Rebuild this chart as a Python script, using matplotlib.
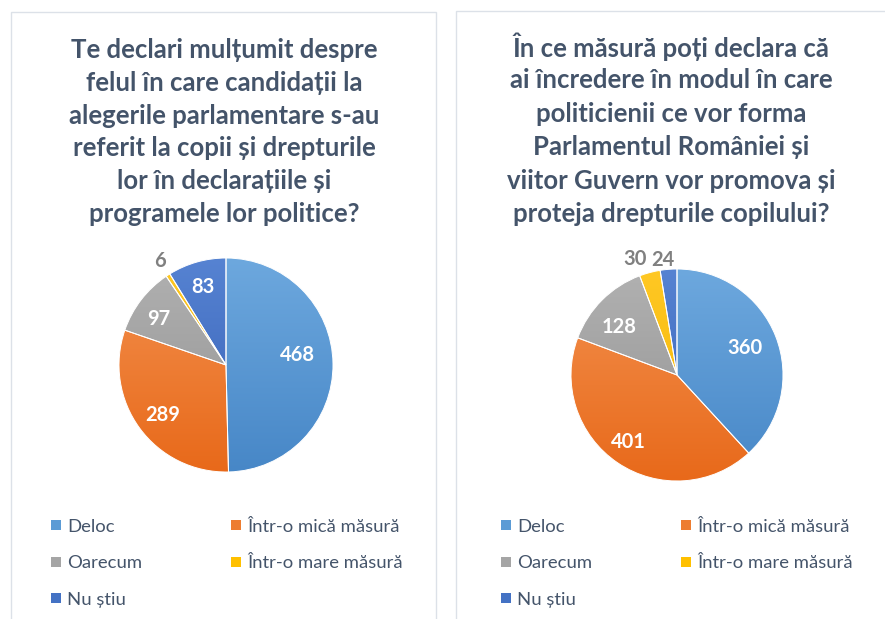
import numpy as np
import matplotlib.pyplot as plt
from matplotlib.patches import Rectangle
from matplotlib.colors import to_rgb

# data
categories = ['Deloc', 'Într-o mică măsură', 'Oarecum', 'Într-o mare măsură', 'Nu știu']
colors = ['#5B9BD5', '#ED7D31', '#A5A5A5', '#FFC000', '#4472C4']
# light top / dark bottom shades of each colour (Excel-style gradient)
grad_top = ['#6DA8DE', '#F3914F', '#B1B1B1', '#FFC824', '#5683D2']
grad_bot = ['#4787C7', '#E8691A', '#929292', '#F2B300', '#365FB5']

title_left = ['Te declari mulțumit despre',
              'felul în care candidații la',
              'alegerile parlamentare s-au',
              'referit la copii și drepturile',
              'lor în declarațiile și',
              'programele lor politice?']
values_left = [468, 289, 97, 6, 83]

title_right = ['În ce măsură poți declara că',
               'ai încredere în modul în care',
               'politicienii ce vor forma',
               'Parlamentul României și',
               'viitor Guvern vor promova și',
               'proteja drepturile copilului?']
values_right = [360, 401, 128, 30, 24]

W, H = 885, 619
FONT = ['Lato', 'DejaVu Sans']
TXT = '#44546A'

fig = plt.figure(figsize=(W / 100, H / 100), dpi=100)
fig.patch.set_facecolor('white')


def fx(x):
    return x / W


def fy(y):
    return 1 - y / H


def panel(x0, y0, x1, y1):
    fig.patches.append(Rectangle((fx(x0), fy(y1)), fx(x1 - x0), (y1 - y0) / H,
                                 transform=fig.transFigure, facecolor='white',
                                 edgecolor='#DCE1E8', linewidth=1, zorder=-5))


def draw_pie(vals, cx, cy, r, lab_r, lab_nudge):
    ax = fig.add_axes([fx(cx - r), fy(cy + r), 2 * r / W, 2 * r / H])
    ax.set_zorder(2)
    wedges, _ = ax.pie(vals, colors=colors, startangle=90, counterclock=False,
                       radius=1, wedgeprops=dict(edgecolor='white', linewidth=0.7))
    t = np.linspace(0, 1, 256)[:, None, None]
    for w, c1, c2 in zip(wedges, grad_top, grad_bot):
        top = np.array(to_rgb(c1))
        bot = np.array(to_rgb(c2))
        img = top[None, None, :] * (1 - t) + bot[None, None, :] * t
        im = ax.imshow(img, extent=[-1, 1, -1, 1], aspect='auto', zorder=1,
                       interpolation='bilinear')
        im.set_clip_path(w)
        w.set_facecolor('none')
        w.set_zorder(2)
    for w, v, rr, nd in zip(wedges, vals, lab_r, lab_nudge):
        ang = np.deg2rad((w.theta1 + w.theta2) / 2 + nd)
        col = 'white' if rr < 1 else '#808080'
        ax.text(rr * np.cos(ang), rr * np.sin(ang), str(v), ha='center',
                va='center_baseline', fontsize=14.5, fontweight='bold', color=col,
                family=FONT, zorder=3, clip_on=False)
    ax.set_xlim(-1, 1)
    ax.set_ylim(-1, 1)
    ax.axis('off')
    return ax


def draw_title(lines, cx, y0, dy):
    for i, line in enumerate(lines):
        fig.text(fx(cx), fy(y0 + i * dy), line, ha='center', va='center_baseline',
                 fontsize=18.5, fontweight='bold', color=TXT, family=FONT)


def draw_legend(x_cols, y_rows):
    for i, (cat, c) in enumerate(zip(categories, colors)):
        x = x_cols[i % 2]
        y = y_rows[i // 2]
        fig.patches.append(Rectangle((fx(x), fy(y + 5)), fx(10), 10 / H,
                                     transform=fig.transFigure, facecolor=c,
                                     edgecolor='none'))
        fig.text(fx(x + 16), fy(y), cat, ha='left', va='center_baseline',
                 fontsize=13.3, color=TXT, family=FONT)


panel(11, 12, 436, 640)
panel(456, 11, 900, 640)

draw_title(title_left, 224, 48, 32.8)
draw_title(title_right, 671, 45, 33.4)

draw_pie(values_left, 226, 365, 107,
         [0.68, 0.74, 0.77, 1.17, 0.78], [9, 1, 2, -1, 0])
draw_pie(values_right, 677, 375, 106,
         [0.70, 0.77, 0.72, 1.18, 1.11], [2, -3, 4, 4.7, 2.2])

draw_legend([51, 231], [525, 562, 598])
draw_legend([501, 681], [525, 562, 598])

fig.savefig('out.png', dpi=100)
